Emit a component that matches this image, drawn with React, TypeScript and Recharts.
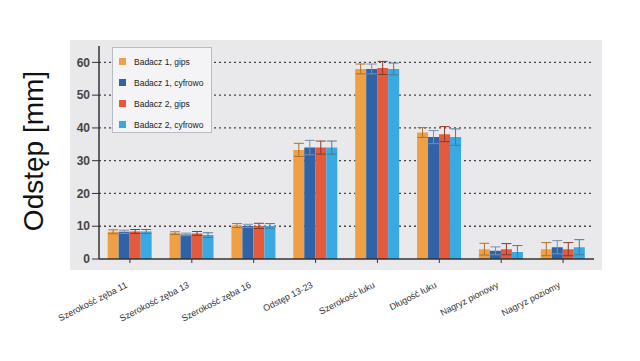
import React from "react";
import { Bar, BarChart, CartesianGrid, ErrorBar, XAxis, YAxis } from "recharts";

const categories = [
  "Szerokość zęba 11",
  "Szerokość zęba 13",
  "Szerokość zęba 16",
  "Odstęp 13-23",
  "Szerokość łuku",
  "Długość łuku",
  "Nagryz pionowy",
  "Nagryz poziomy",
];

const b1Gips = [8.3, 7.9, 10.2, 33.3, 58.0, 38.6, 3.0, 3.0];
const b1Cyfr = [8.3, 7.5, 10.1, 34.0, 58.0, 37.2, 2.5, 3.6];
const b2Gips = [8.4, 7.8, 10.1, 34.0, 58.3, 38.1, 3.0, 3.0];
const b2Cyfr = [8.4, 7.3, 10.1, 34.0, 58.0, 37.2, 2.1, 3.6];

const b1GipsErr = [0.6, 0.4, 0.6, 2.0, 1.5, 1.5, 1.8, 2.0];
const b1CyfrErr = [0.5, 0.4, 0.5, 2.2, 1.5, 2.0, 1.2, 2.0];
const b2GipsErr = [0.6, 0.6, 0.8, 2.0, 2.0, 2.3, 1.7, 2.0];
const b2CyfrErr = [0.6, 0.7, 0.7, 2.0, 1.8, 2.5, 2.0, 2.3];

const yTicks = [0, 10, 20, 30, 40, 50, 60];
const gridValues = [10, 20, 30, 40, 50, 60];

const series = [
  { key: "b1g", name: "Badacz 1, gips", color: "#f0a044", err: "#b07020" },
  { key: "b1c", name: "Badacz 1, cyfrowo", color: "#2f63a6", err: "#7a8fb0" },
  { key: "b2g", name: "Badacz 2, gips", color: "#e45a3c", err: "#8a3a2a" },
  { key: "b2c", name: "Badacz 2, cyfrowo", color: "#3aa9e2", err: "#4a7a90" },
];

const data = categories.map((name, i) => ({
  name,
  b1g: b1Gips[i],
  b1c: b1Cyfr[i],
  b2g: b2Gips[i],
  b2c: b2Cyfr[i],
  b1gErr: b1GipsErr[i],
  b1cErr: b1CyfrErr[i],
  b2gErr: b2GipsErr[i],
  b2cErr: b2CyfrErr[i],
}));

const font = "Liberation Sans, Arial, sans-serif";

function XTick({ x, y, payload }: any) {
  return (
    <g transform={`translate(${x - 2},${y + 22})`}>
      <text textAnchor="end" transform="rotate(-27)" fontSize={9} fill="#333" fontFamily={font}>
        {payload.value}
      </text>
    </g>
  );
}

function LegendBox() {
  return (
    <div
      style={{
        position: "absolute",
        left: 112,
        top: 47,
        background: "#f4f4f6",
        border: "1px solid #b8bcc4",
        width: 100,
        height: 86,
        boxSizing: "border-box",
        padding: "3px 0 0 6px",
        fontFamily: font,
        fontSize: 8.5,
        color: "#222",
      }}
    >
      {series.map((s) => (
        <div key={s.key} style={{ display: "flex", alignItems: "center", height: 21 }}>
          <span
            style={{ display: "inline-block", width: 7, height: 7, background: s.color, marginRight: 8 }}
          />
          {s.name}
        </div>
      ))}
    </div>
  );
}

export default function App() {
  return (
    <div style={{ position: "absolute", left: 0, top: 0, width: 640, height: 361, background: "#fff" }}>
      <div
        style={{ position: "absolute", left: 70, top: 40, width: 532, height: 230, background: "#e9e9eb" }}
      />
      <div
        style={{
          position: "absolute",
          left: 34,
          top: 151,
          transform: "translate(-50%, -50%) rotate(-90deg)",
          fontFamily: font,
          fontSize: 28,
          color: "#111",
          whiteSpace: "nowrap",
        }}
      >
        Odstęp [mm]
      </div>
      <div style={{ position: "absolute", left: 0, top: 0 }}>
        <BarChart
          width={640}
          height={361}
          data={data}
          margin={{ top: 46, right: 46, left: 70, bottom: 0 }}
          barCategoryGap="14%"
          barGap={0}
        >
          <CartesianGrid
            vertical={false}
            horizontalValues={gridValues}
            stroke="#444"
            strokeDasharray="2 3"
            strokeWidth={1.3}
          />
          <XAxis
            dataKey="name"
            height={102}
            tick={<XTick />}
            tickLine={{ stroke: "#333" }}
            axisLine={{ stroke: "#333", strokeWidth: 1.5 }}
            interval={0}
            tickSize={4}
          />
          <YAxis
            width={29}
            domain={[0, 65]}
            ticks={yTicks}
            allowDataOverflow
            tick={{ fill: "#444", fontSize: 12, fontWeight: "bold", fontFamily: font }}
            tickLine={{ stroke: "#333" }}
            axisLine={{ stroke: "#333", strokeWidth: 1.5 }}
            tickSize={7}
            tickMargin={2}
          />
          {series.map((s) => (
            <Bar key={s.key} dataKey={s.key} name={s.name} fill={s.color} isAnimationActive={false}>
              <ErrorBar dataKey={`${s.key}Err`} width={5} stroke={s.err} strokeWidth={1} />
            </Bar>
          ))}
        </BarChart>
      </div>
      <LegendBox />
    </div>
  );
}
